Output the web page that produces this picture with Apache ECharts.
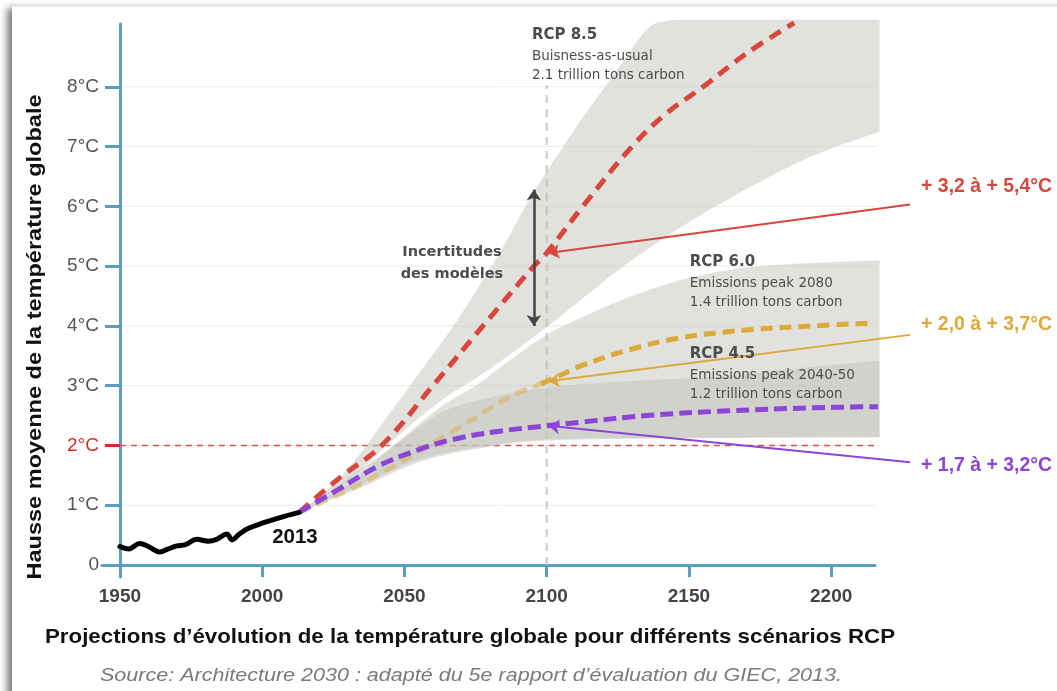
<!DOCTYPE html>
<html>
<head>
<meta charset="utf-8">
<script src="https://cdn.jsdelivr.net/npm/echarts@6/dist/echarts.min.js"></script>
<style>
  html, body { margin: 0; padding: 0; background: #fff; overflow: hidden; }
  #card { position: absolute; left: 12px; top: 6px; width: 1100px; height: 720px; background: #fff;
          border-top: 1px solid #f1f1f1; box-shadow: -7px 0 7px -2px rgba(0,0,0,0.5); }
  #chart { position: absolute; left: 0; top: 0; width: 1057px; height: 691px; }
</style>
</head>
<body>
<div id="card"></div>
<div id="chart"></div>
<script>
// ---- axis ticks ----
const yearTicks = [1950, 2000, 2050, 2100, 2150, 2200];
const tempTicks = [0, 1, 2, 3, 4, 5, 6, 7, 8];

// ---- observed warming 1950-2013 (°C) ----
const observed = [
  [1950, 0.31], [1953, 0.27], [1957, 0.36], [1960, 0.31], [1964, 0.22], [1967, 0.27],
  [1970, 0.32], [1973, 0.34], [1977, 0.43], [1981, 0.40], [1984, 0.43], [1987.6, 0.52],
  [1989.4, 0.42], [1992, 0.52], [1995, 0.61], [2000, 0.70], [2006, 0.79], [2013, 0.88]
];

// ---- scenario central projections (°C) ----
const rcp85 = [
  [2013, 0.88], [2027, 1.45], [2042, 2.0], [2060, 3.0], [2077.6, 4.0], [2095.5, 5.0],
  [2100, 5.22], [2112.7, 6.0], [2130, 7.0], [2142, 7.55], [2155, 8.0], [2170, 8.55], [2187, 9.07]
];
const rcp60 = [
  [2013, 0.88], [2030, 1.25], [2045, 1.62], [2055, 1.9], [2065, 2.18], [2075, 2.47],
  [2083, 2.71], [2090, 2.88], [2098, 3.03], [2105, 3.18], [2112, 3.33], [2129, 3.6],
  [2147, 3.8], [2170, 3.93], [2194, 4.0], [2215, 4.05]
];
const rcp45 = [
  [2013, 0.88], [2027, 1.27], [2041, 1.66], [2055, 1.93], [2067, 2.1], [2082, 2.23],
  [2100, 2.33], [2112, 2.39], [2135, 2.5], [2164, 2.58], [2194, 2.63], [2217, 2.65]
];

// ---- model uncertainty envelopes (°C) ----
const band85Upper = [
  [2013, 0.88], [2025, 1.35], [2035, 1.9], [2045, 2.55], [2055, 3.2], [2065, 3.85], [2073, 4.42],
  [2085, 5.35], [2095, 6.2], [2110, 7.3], [2125, 8.3], [2135, 8.95], [2142, 9.1], [2155, 9.12], [2217, 9.12]
];
const band85Lower = [
  [2013, 0.88], [2030, 1.4], [2045, 2.05], [2062, 2.72], [2075, 3.12], [2085, 3.45],
  [2100, 3.98], [2115, 4.55], [2130, 5.1], [2154, 5.85], [2189, 6.75], [2217, 7.25]
];
const band60Upper = [
  [2013, 0.88], [2030, 1.35], [2045, 1.95], [2062, 2.62], [2075, 3.0], [2085, 3.35],
  [2100, 3.85], [2115, 4.2], [2130, 4.5], [2150, 4.8], [2175, 5.0], [2217, 5.1]
];
const band60Lower = [
  [2013, 0.88], [2035, 1.3], [2055, 1.72], [2076, 1.95], [2100, 2.08], [2150, 2.12], [2217, 2.14]
];
const band45Upper = [
  [2013, 0.88], [2030, 1.45], [2045, 1.95], [2063, 2.55], [2080, 2.8], [2100, 2.97],
  [2130, 3.08], [2160, 3.15], [2190, 3.3], [2217, 3.42]
];
const band45Lower = [
  [2013, 0.88], [2035, 1.35], [2055, 1.76], [2076, 1.97], [2100, 2.1], [2150, 2.13], [2217, 2.14]
];

// ---- texts ----
const targetLine = 2;
const referenceYear = 2100;
const fadeUntil = 2098;
const scenarioTitles = ['RCP 8.5', 'RCP 6.0', 'RCP 4.5'];
const scenarioNotes = [
  ['Buisness-as-usual', '2.1 trillion tons carbon'],
  ['Emissions peak 2080', '1.4 trillion tons carbon'],
  ['Emissions peak 2040-50', '1.2 trillion tons carbon']
];
const rangeLabels = ['+ 3,2 à + 5,4°C', '+ 2,0 à + 3,7°C', '+ 1,7 à + 3,2°C'];
const uncertaintyLabel = 'Incertitudes\ndes modèles';
const lastObsLabel = '2013';
const yTitle = 'Hausse moyenne de la température globale';
const xTitle = 'Projections d’évolution de la température globale pour différents scénarios RCP';
const sourceText = 'Source: Architecture 2030 : adapté du 5e rapport d’évaluation du GIEC, 2013.';

// ---- styling ----
const AXIS = '#5b9dc0';
const RED = '#d8473b';
const GOLD = '#dea93b';
const PURPLE = '#8d45d7';
const NOTE = '#4d4d4d';
const BAND_FILL = 'rgba(196,196,190,0.5)';
const SANS = '"Liberation Sans", Arial, Helvetica, sans-serif';
const WIDE = '"DejaVu Sans", Verdana, sans-serif';

const measureCtx = document.createElement('canvas').getContext('2d');
// horizontal scale that makes a text run span the given width
function fitScale(text, font, width) {
  measureCtx.font = font;
  return width / measureCtx.measureText(text).width;
}

function valueAt(series, x) {
  for (let i = 0; i < series.length - 1; i++) {
    const a = series[i], b = series[i + 1];
    if (x >= a[0] && x <= b[0]) return a[1] + (b[1] - a[1]) * (x - a[0]) / (b[0] - a[0]);
  }
  return series[series.length - 1][1];
}

// Catmull-Rom smoothing of pixel points for the envelope outlines
function spline(pts, steps) {
  const out = [];
  for (let i = 0; i < pts.length - 1; i++) {
    const p0 = pts[i - 1] || pts[i], p1 = pts[i], p2 = pts[i + 1], p3 = pts[i + 2] || pts[i + 1];
    for (let s = 0; s < steps; s++) {
      const t = s / steps, t2 = t * t, t3 = t2 * t;
      const f = k => 0.5 * (2 * p1[k] + (-p0[k] + p2[k]) * t + (2 * p0[k] - 5 * p1[k] + 4 * p2[k] - p3[k]) * t2 + (-p0[k] + 3 * p1[k] - 3 * p2[k] + p3[k]) * t3);
      out.push([f(0), f(1)]);
    }
  }
  out.push(pts[pts.length - 1]);
  return out;
}

function bandSeries(name, upper, lower) {
  return {
    name, type: 'custom', z: 1, silent: true,
    data: [[upper[0][0], upper[0][1]]],
    renderItem: (params, api) => {
      const top = spline(upper.map(p => api.coord(p)), 12);
      const bottom = spline(lower.map(p => api.coord(p)), 12).reverse();
      return { type: 'polygon', shape: { points: top.concat(bottom) }, style: { fill: BAND_FILL } };
    }
  };
}

function dashedLine(name, data, color, dash, z, opacity) {
  return {
    name, type: 'line', data, z, smooth: 0.4, symbol: 'none', clip: false, silent: true,
    lineStyle: { color, width: 5, type: dash, cap: 'butt', opacity: opacity == null ? 1 : opacity }
  };
}

const chart = echarts.init(document.getElementById('chart'), null, { renderer: 'canvas' });

const rcp60Faded = rcp60.filter(p => p[0] <= fadeUntil);
const rcp60Solid = rcp60.filter(p => p[0] >= fadeUntil);

const noteAnchors = [[2094.8, 9.05], [2150.3, 5.26], [2150.3, 3.72]];
const rangeColors = [RED, GOLD, PURPLE];
const rangeAnchors = [[2231.6, 6.33], [2231.6, 4.03], [2231.6, 1.67]];
const pointerStarts = [[2227.7, 6.03], [2227.7, 3.85], [2227.7, 1.72]];
const pointerTargets = [rcp85, rcp60, rcp45];

const titleFont = 'bold 21px ' + SANS;
const sourceFont = 'italic 19px ' + SANS;
const rangeFont = 'bold 21px ' + SANS;

const option = {
  animation: false,
  backgroundColor: 'transparent',
  grid: { left: 102, top: 24, width: 773, height: 553, containLabel: false },
  xAxis: {
    type: 'value', min: 1943.7, max: 2215.4, interval: 50,
    axisLine: { onZero: true, lineStyle: { color: AXIS, width: 3 } },
    axisTick: { length: 12, lineStyle: { color: AXIS, width: 3 }, customValues: yearTicks },
    axisLabel: { customValues: yearTicks, margin: 10, color: '#444', fontSize: 19, fontWeight: 'bold', fontFamily: SANS,
                 formatter: v => String(v) },
    splitLine: { show: false }
  },
  yAxis: {
    type: 'value', min: -0.2, max: 9.05, interval: 1, offset: -18,
    axisLine: { lineStyle: { color: AXIS, width: 3 } },
    axisTick: { length: 15, lineStyle: { color: AXIS, width: 3 }, customValues: tempTicks.filter(v => v !== targetLine) },
    axisLabel: {
      customValues: tempTicks, margin: 21, fontSize: 19, fontFamily: SANS, color: '#555',
      formatter: v => v === 0 ? '0' : (v === targetLine ? '{r|' + v + '°C}' : v + '°C'),
      rich: { r: { color: '#d42b2b', fontSize: 19, fontFamily: SANS } }
    },
    splitLine: { show: false }
  },
  graphic: [
    { type: 'text', x: 35, y: 337, rotation: Math.PI / 2, silent: true, scaleX: fitScale(yTitle, titleFont, 485),
      style: { text: yTitle, font: titleFont, fill: '#111', align: 'center', verticalAlign: 'middle' } },
    { type: 'text', x: 470, y: 637, silent: true, scaleX: fitScale(xTitle, titleFont, 850),
      style: { text: xTitle, font: titleFont, fill: '#111', align: 'center', verticalAlign: 'middle' } },
    { type: 'text', x: 471, y: 676, silent: true, scaleX: fitScale(sourceText, sourceFont, 742),
      style: { text: sourceText, font: sourceFont, fill: '#7a7a7a', align: 'center', verticalAlign: 'middle' } }
  ],
  series: [
    // horizontal grid lines
    {
      name: 'grid', type: 'custom', z: 0, silent: true,
      data: tempTicks.filter(v => v > 0).map(v => [yearTicks[0], v]),
      renderItem: (params, api) => {
        const a = api.coord([yearTicks[0], api.value(1)]);
        const b = api.coord([2216, api.value(1)]);
        return { type: 'line', shape: { x1: a[0], y1: a[1], x2: b[0], y2: b[1] }, style: { stroke: '#ececec', lineWidth: 1 } };
      }
    },
    // 2°C threshold
    {
      name: 'threshold', type: 'line', z: 0, symbol: 'none', silent: true, clip: false,
      data: [[yearTicks[0], targetLine], [2217, targetLine]],
      lineStyle: { color: '#dc5249', width: 1.5, type: [6, 5] }
    },
    {
      name: 'thresholdTick', type: 'line', z: 3, symbol: 'none', silent: true, clip: false,
      data: [[1944.7, targetLine], [yearTicks[0], targetLine]],
      lineStyle: { color: '#d42b2b', width: 3 }
    },
    // 2100 marker
    {
      name: 'year2100', type: 'line', z: 0, symbol: 'none', silent: true,
      data: [[referenceYear, 0], [referenceYear, 8.03]],
      lineStyle: { color: '#c9c9c1', width: 2, type: [8, 6] }
    },
    dashedLine('RCP 6.0 early', rcp60Faded, GOLD, [12, 7], 1, 0.45),
    bandSeries('band 8.5', band85Upper, band85Lower),
    bandSeries('band 6.0', band60Upper, band60Lower),
    bandSeries('band 4.5', band45Upper, band45Lower),
    dashedLine('RCP 6.0', rcp60Solid, GOLD, [12, 7], 4),
    dashedLine('RCP 8.5', rcp85, RED, [13, 8], 5),
    dashedLine('RCP 4.5', rcp45, PURPLE, [13, 6], 6),
    {
      name: 'observed', type: 'line', data: observed, z: 7, smooth: 0.4, symbol: 'none', silent: true,
      lineStyle: { color: '#000', width: 5, cap: 'round', join: 'round' }
    },
    // pointers from range labels to the 2100 values
    {
      name: 'pointers', type: 'lines', coordinateSystem: 'cartesian2d', z: 8, silent: true, clip: false,
      symbol: ['none', 'arrow'], symbolSize: [0, 11],
      data: pointerStarts.map((s, i) => ({
        coords: [s, [referenceYear + 0.6, valueAt(pointerTargets[i], referenceYear)]],
        lineStyle: { color: rangeColors[i], width: 2, opacity: 1 }
      }))
    },
    // model uncertainty double arrow
    {
      name: 'uncertainty', type: 'lines', coordinateSystem: 'cartesian2d', z: 8, silent: true, clip: false,
      symbol: ['arrow', 'arrow'], symbolSize: 11,
      data: [{ coords: [[2095.5, 4.0], [2095.5, 6.28]], lineStyle: { color: '#444', width: 2.5, opacity: 1 } }]
    },
    // range labels on the right
    {
      name: 'ranges', type: 'custom', z: 9, silent: true, clip: false,
      data: rangeAnchors.map((a, i) => [a[0], a[1], i]),
      renderItem: (params, api) => {
        const i = api.value(2);
        const p = api.coord([api.value(0), api.value(1)]);
        return {
          type: 'text', x: p[0], y: p[1], scaleX: fitScale(rangeLabels[i], rangeFont, 131),
          style: { text: rangeLabels[i], font: rangeFont, fill: rangeColors[i], align: 'left', verticalAlign: 'middle' }
        };
      }
    },
    // annotation texts
    {
      name: 'notes', type: 'scatter', z: 9, symbolSize: 0, silent: true, clip: false,
      itemStyle: { opacity: 1 },
      data: [].concat(
        noteAnchors.map((at, i) => ({
          value: at,
          label: {
            show: true, position: 'inside', align: 'left', verticalAlign: 'top', opacity: 1,
            formatter: '{h|' + scenarioTitles[i] + '}\n' + scenarioNotes[i].map(t => '{s|' + t + '}').join('\n'),
            rich: {
              h: { fontSize: 15, fontWeight: 'bold', color: NOTE, fontFamily: WIDE, lineHeight: 23 },
              s: { fontSize: 13.5, color: NOTE, fontFamily: WIDE, lineHeight: 19 }
            }
          }
        })),
        [{
          value: [2066.7, 5.05],
          label: {
            show: true, position: 'inside', align: 'center', verticalAlign: 'middle', formatter: uncertaintyLabel,
            color: NOTE, fontSize: 14.5, fontWeight: 'bold', fontFamily: WIDE, lineHeight: 22, opacity: 1
          }
        }, {
          value: [2003.5, 0.47],
          label: {
            show: true, position: 'inside', align: 'left', verticalAlign: 'middle', formatter: lastObsLabel,
            color: '#111', fontSize: 20.5, fontWeight: 'bold', fontFamily: SANS, opacity: 1
          }
        }]
      )
    }
  ]
};

chart.setOption(option);
</script>
</body>
</html>
